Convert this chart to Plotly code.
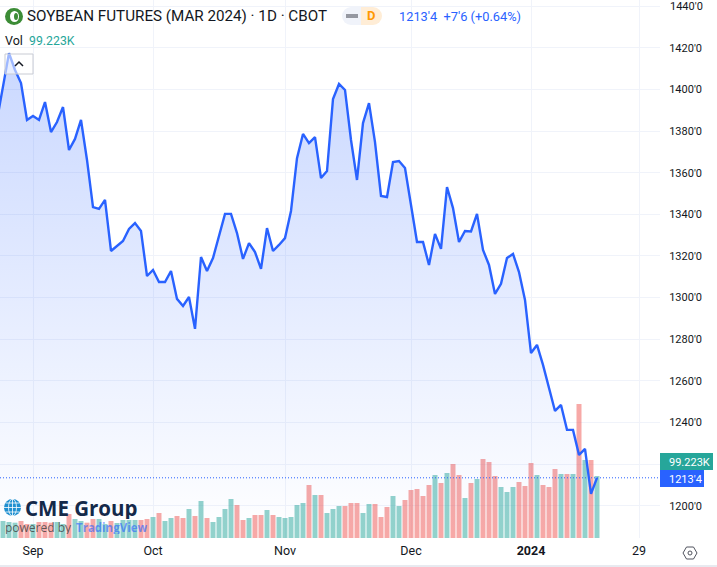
import plotly.graph_objects as go

# trading day index, -1 is the session just left of the visible window
price_start = -1
price = [1385.3, 1401.6, 1417.4, 1409.3, 1403.0, 1385.3, 1387.2, 1385.3, 1393.9, 1379.5,
         1384.3, 1391.5, 1370.9, 1376.2, 1385.3, 1366.1, 1343.5, 1342.6, 1346.9, 1322.4,
         1324.8, 1327.2, 1333.0, 1335.8, 1332.0, 1310.4, 1313.3, 1307.5, 1307.5, 1312.8,
         1299.4, 1296.0, 1300.3, 1285.0, 1319.5, 1312.8, 1319.0, 1329.1, 1340.2, 1340.2,
         1331.0, 1318.6, 1326.2, 1321.9, 1313.8, 1333.4, 1322.4, 1325.3, 1328.6, 1341.6,
         1367.0, 1378.6, 1374.2, 1377.1, 1357.4, 1360.8, 1395.4, 1402.6, 1399.7, 1375.7,
         1356.5, 1383.8, 1393.4, 1374.7, 1348.8, 1348.3, 1365.1, 1365.6, 1362.2, 1344.5,
         1326.7, 1326.7, 1315.7, 1330.6, 1323.4, 1353.1, 1343.0, 1326.7, 1332.0, 1331.8,
         1340.2, 1322.9, 1315.7, 1301.8, 1306.6, 1319.0, 1321.0, 1312.3, 1298.9, 1273.4,
         1277.3, 1267.7, 1256.6, 1245.6, 1248.5, 1236.5, 1236.5, 1224.5, 1227.4, 1205.8,
         1213.5]

# volume in thousands
volume = [27.2, 25.6, 24.5, 27.2, 22.4, 22.4, 25.6, 25.6, 24.5, 25.6,
          22.4, 38.4, 30.4, 27.2, 24.5, 30.4, 30.4, 22.4, 27.2, 24.0,
          28.8, 28.8, 28.8, 28.8, 30.4, 33.6, 40.0, 27.2, 32.0, 35.2,
          32.0, 46.4, 35.2, 59.2, 32.0, 25.6, 33.6, 46.4, 62.4, 52.8,
          28.8, 32.0, 36.8, 36.8, 44.8, 36.8, 33.6, 32.0, 33.6, 52.8,
          56.0, 84.8, 68.8, 68.8, 40.0, 46.4, 51.2, 51.2, 56.0, 56.0,
          40.0, 54.4, 54.4, 33.6, 49.6, 67.2, 51.2, 60.8, 76.8, 78.4,
          67.2, 84.8, 100.8, 88.0, 104.0, 118.4, 100.8, 64.0, 88.0, 94.4,
          126.4, 121.6, 99.2, 81.6, 73.6, 81.6, 89.6, 83.2, 120.0, 100.8,
          84.8, 81.6, 110.4, 102.4, 102.4, 102.4, 214.4, 124.8, 124.8, 99.223]
# u = teal session, d = red session
direction = list("uuuddudddu" "uduudduudu" "uuudduduud" "dududuuuud" "dudduduuuu"
                 "ududuuuddd" "uuddduuddd" "ddududdudu" "ddduuudddu" "dddudududu")

tick_days = [5, 25, 47, 68, 88, 106]
tick_names = ["Sep", "Oct", "Nov", "Dec", "<b>2024</b>", "29"]
price_ticks = [1200, 1220, 1240, 1260, 1280, 1300, 1320, 1340, 1360, 1380, 1400, 1420, 1440]
price_names = ["1200'0", "", "1240'0", "1260'0", "1280'0", "1300'0", "1320'0", "1340'0",
               "1360'0", "1380'0", "1400'0", "1420'0", ""]

BLUE = "#2962FF"
TEAL = "#26A69A"
GRID = "#f0f3fa"
FONT = "Roboto"
W, H = 660, 538


def xp(px):
    return px / W


def yp(py):
    return 1 - py / H


def label(px, py, text, size=14, color="#131722", anchor="left", **kw):
    fig.add_annotation(x=xp(px), y=yp(py), xref="paper", yref="paper", text=text, showarrow=False,
                       xanchor=anchor, yanchor="middle", align="left", borderpad=0,
                       font=dict(family=kw.pop("family", FONT), size=size, color=color), **kw)


def box(x0, y0, x1, y1, **kw):
    fig.add_shape(type=kw.pop("kind", "rect"), xref="paper", yref="paper", x0=xp(x0), x1=xp(x1),
                  y0=yp(y0), y1=yp(y1), **kw)


def path(points, **kw):
    d = "M " + " L ".join(f"{xp(a)},{yp(b)}" for a, b in points)
    fig.add_shape(type="path", xref="paper", yref="paper", path=d, **kw)


fig = go.Figure()

bar_colors = ["rgba(38,166,154,0.5)" if d == "u" else "rgba(239,83,80,0.5)" for d in direction]
fig.add_trace(go.Bar(x=list(range(len(volume))), y=volume, marker=dict(color=bar_colors, line_width=0),
                     width=0.83, yaxis="y", hoverinfo="skip"))
fig.add_trace(go.Scatter(x=list(range(price_start, price_start + len(price))), y=price, mode="lines",
                         line=dict(color=BLUE, width=2.4), yaxis="y2", fill="tozeroy",
                         fillgradient=dict(type="vertical", start=1185, stop=1417,
                                           colorscale=[[0, "rgba(41,98,255,0.0)"], [1, "rgba(41,98,255,0.25)"]]),
                         hoverinfo="skip"))

fig.update_layout(
    width=717, height=567, margin=dict(l=0, r=57, t=0, b=29),
    paper_bgcolor="white", plot_bgcolor="white", showlegend=False,
    font=dict(family=FONT, color="#131722", size=12),
    xaxis=dict(range=[-0.5, 109.5], tickvals=tick_days, ticktext=tick_names, showgrid=True, gridcolor=GRID,
               gridwidth=1, zeroline=False, showline=False, ticks="outside", ticklen=1, tickcolor="white",
               tickfont=dict(size=12.5)),
    yaxis=dict(range=[0, 860.8], visible=False, showgrid=False),
    yaxis2=dict(range=[1184.6, 1442.9], overlaying="y", side="right", anchor="x", tickvals=price_ticks,
                ticktext=price_names, showgrid=True, gridcolor=GRID, gridwidth=1, zeroline=False,
                ticks="outside", ticklen=6, tickcolor="white", tickfont=dict(size=11)),
)

# last price line
fig.add_shape(type="line", xref="paper", yref="y2", x0=0, x1=1, y0=price[-1], y1=price[-1],
              line=dict(color=BLUE, width=1, dash="1px,2px"))

# bottom border of widget
box(0, 566, 717, 566, line=dict(color="#e0e3eb", width=1))

# top price label sits too near the edge for the axis to draw it
label(669, 6, "1440'0", size=11)

# right hand value tags
box(660, 453, 713, 470, fillcolor=TEAL, line_width=0)
box(660, 470, 704, 487, fillcolor=BLUE, line_width=0)
label(668, 462, "99.223K", size=11, color="white")
label(668, 479, "1213'4", size=11, color="white")

# header
box(5, 8, 23, 25, kind="circle", fillcolor="#3c8c36", line_width=0)
box(10, 11, 19, 22, kind="circle", fillcolor="white", line_width=0)
box(14, 13, 18, 20, kind="circle", fillcolor="#3c8c36", line_width=0)
label(26, 16.5, "SOYBEAN FUTURES (MAR 2024) · 1D · CBOT", size=15.2)
label(4, 41, "Vol", size=12.5)
label(28, 41, "99.223K", size=12.3, color=TEAL)
box(342, 7, 360, 25, kind="circle", fillcolor="#f0f3fa", line_width=0)
box(351, 7, 361, 25, fillcolor="#f0f3fa", line_width=0)
box(364, 7, 382, 25, kind="circle", fillcolor="#ffedd6", line_width=0)
box(361, 7, 373, 25, fillcolor="#ffedd6", line_width=0)
box(346, 14, 358, 18, fillcolor="#9598a1", line_width=0)
label(371, 16, "<b>D</b>", size=13, color="#ff9800", anchor="center")
label(398, 16.5, "1213'4  +7'6 (+0.64%)", size=12.8, color=BLUE)

# collapse button
box(5, 54, 33, 74, fillcolor="rgba(255,255,255,0.55)", line=dict(color="#c8cbd3", width=1))
path([(15, 66), (19, 62), (23, 66)], line=dict(color="#131722", width=1.5))

# logo
box(4, 499, 21, 516, kind="circle", fillcolor="#1f8fd0", line_width=0)
box(8.5, 499, 16.5, 516, kind="circle", line=dict(color="white", width=0.8))
path([(12.5, 499), (12.5, 516)], line=dict(color="white", width=0.8))
path([(4, 507.5), (21, 507.5)], line=dict(color="white", width=0.8))
path([(5.5, 503), (19.5, 503)], line=dict(color="white", width=0.8))
path([(5.5, 512), (19.5, 512)], line=dict(color="white", width=0.8))
label(24, 508, "<b>CME Group</b>", size=20.5, color="#14294a", family="Open Sans", height=22)
label(4, 527, "powered by", size=12, color="rgba(60,60,60,0.8)", family="Open Sans", height=14)
label(75, 527, "<b>TradingView</b>", size=11.5, color="rgba(41,98,255,0.6)", family="Open Sans", height=14)

# settings icon
path([(683, 553), (686.5, 547), (693.5, 547), (697, 553), (693.5, 559), (686.5, 559), (683, 553)],
     line=dict(color="#50535e", width=1))
box(688, 551, 692, 555, kind="circle", line=dict(color="#50535e", width=1))

fig.write_html("out.html", config={"displayModeBar": False},
               post_script="document.body.style.margin='0';document.body.style.overflow='hidden';")
